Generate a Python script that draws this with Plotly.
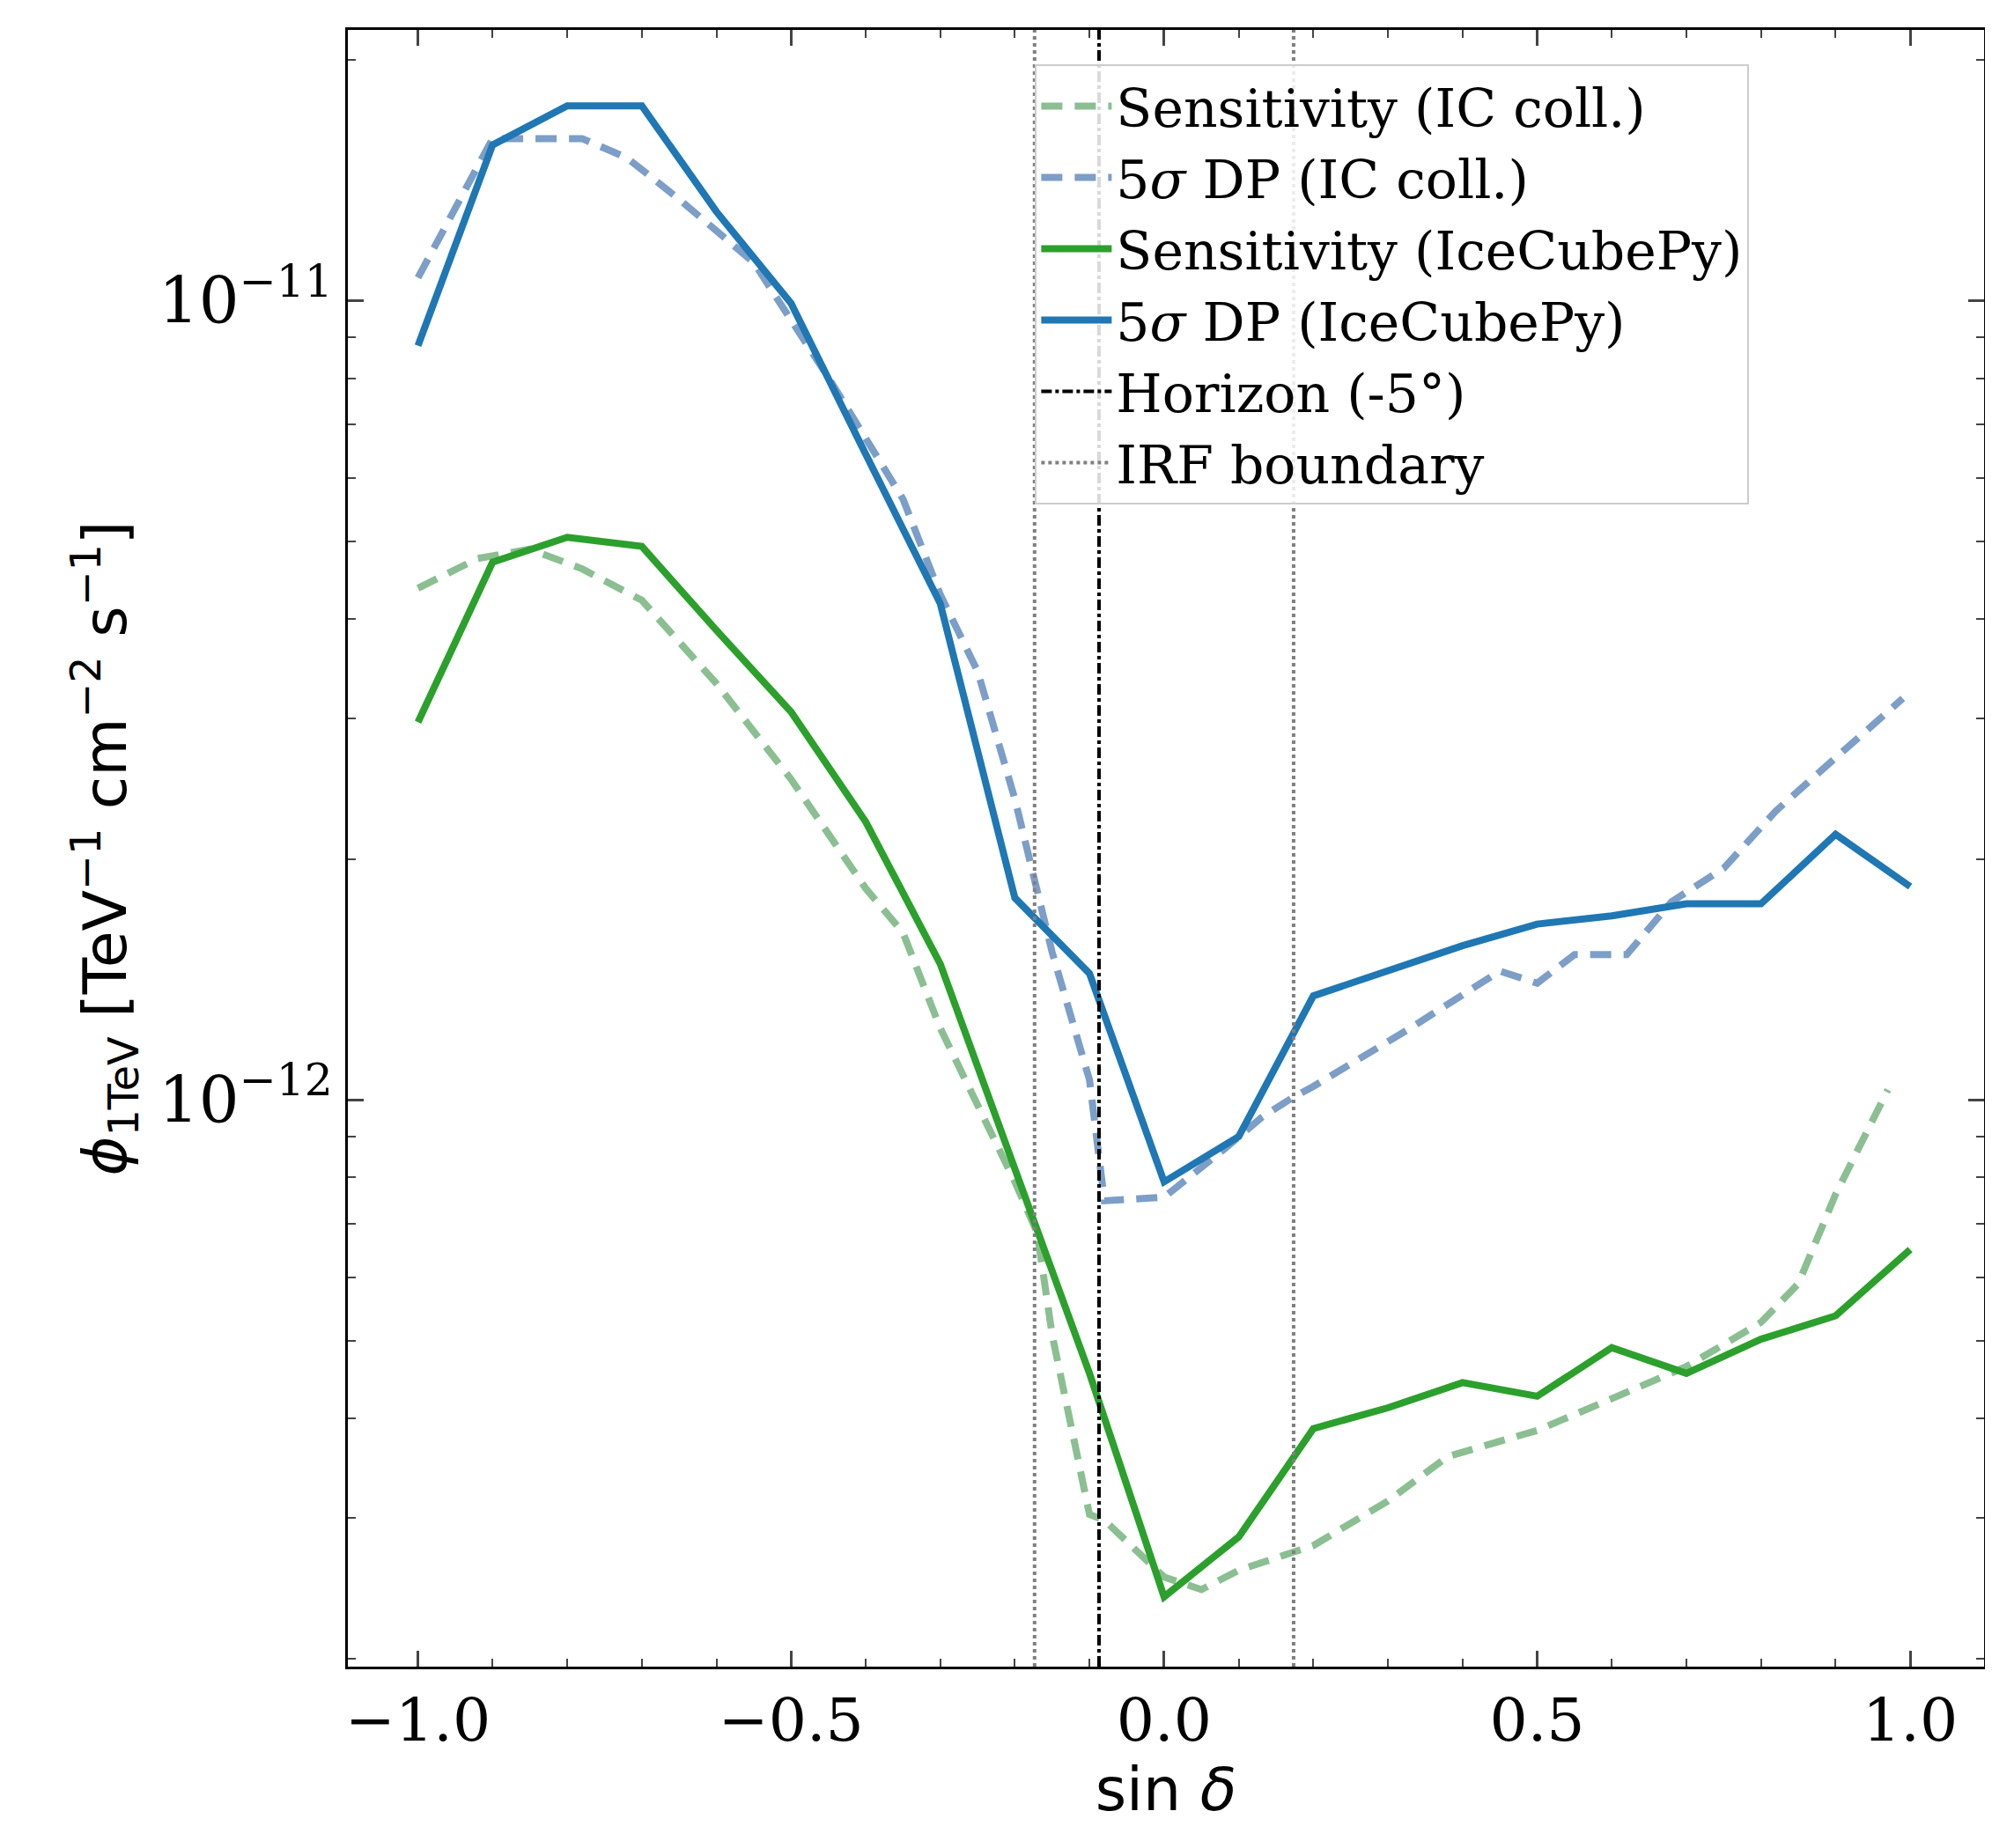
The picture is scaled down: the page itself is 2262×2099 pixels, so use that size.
import plotly.graph_objects as go

x_icp = [-1.0,-0.9,-0.8,-0.7,-0.6,-0.5,-0.4,-0.3,-0.2,-0.1,0.0,0.1,0.2,0.3,0.4,0.5,0.6,0.7,0.8,0.9,1.0]
dp_icp = [8.79e-12,1.567e-11,1.754e-11,1.754e-11,1.293e-11,9.93e-12,6.43e-12,4.18e-12,1.79e-12,1.44e-12,7.9e-13,9.0e-13,1.35e-12,1.45e-12,1.56e-12,1.66e-12,1.70e-12,1.76e-12,1.76e-12,2.15e-12,1.85e-12]
sens_icp = [2.97e-12,4.71e-12,5.06e-12,4.93e-12,3.87e-12,3.06e-12,2.23e-12,1.48e-12,8.2e-13,4.55e-13,2.39e-13,2.84e-13,3.88e-13,4.12e-13,4.43e-13,4.26e-13,4.90e-13,4.55e-13,5.02e-13,5.37e-13,6.5e-13]

x_dp_coll = [-1.0,-0.9,-0.78,-0.72,-0.65,-0.55,-0.5,-0.45,-0.35,-0.3,-0.25,-0.2,-0.15,-0.1,-0.08,0.0,0.08,0.13,0.17,0.2,0.33,0.38,0.45,0.5,0.55,0.62,0.68,0.75,0.82,0.88,0.99]
dp_coll = [1.069e-11,1.596e-11,1.596e-11,1.51e-11,1.34e-11,1.117e-11,9.46e-12,8.02e-12,5.65e-12,4.29e-12,3.44e-12,2.38e-12,1.53e-12,1.06e-12,7.48e-13,7.56e-13,8.67e-13,9.5e-13,1.004e-12,1.04e-12,1.23e-12,1.32e-12,1.45e-12,1.40e-12,1.52e-12,1.52e-12,1.77e-12,1.95e-12,2.30e-12,2.58e-12,3.18e-12]

x_sens_coll = [-1.0,-0.92,-0.85,-0.78,-0.7,-0.6,-0.5,-0.4,-0.35,-0.3,-0.2,-0.17,-0.15,-0.1,-0.08,0.0,0.05,0.1,0.2,0.3,0.38,0.5,0.6,0.7,0.8,0.85,0.9,0.97]
sens_coll = [4.37e-12,4.76e-12,4.89e-12,4.62e-12,4.22e-12,3.32e-12,2.52e-12,1.84e-12,1.62e-12,1.23e-12,7.9e-13,6.82e-13,5.08e-13,3.03e-13,2.98e-13,2.53e-13,2.44e-13,2.58e-13,2.77e-13,3.15e-13,3.58e-13,3.86e-13,4.23e-13,4.64e-13,5.27e-13,5.89e-13,7.62e-13,1.03e-12]

horizon = -0.0872
irf = [-0.1736, 0.1736]
ylo, yhi = 10**-12.709, 10**-10.661

fig = go.Figure()
fig.add_trace(go.Scatter(x=x_sens_coll, y=sens_coll, mode="lines", name="Sensitivity (IC coll.)",
                         line=dict(color="rgba(100,170,110,0.75)", width=8, dash="24px,14px")))
fig.add_trace(go.Scatter(x=x_dp_coll, y=dp_coll, mode="lines", name="5<i>σ</i> DP (IC coll.)",
                         line=dict(color="rgba(80,125,180,0.75)", width=8, dash="24px,14px")))
fig.add_trace(go.Scatter(x=x_icp, y=sens_icp, mode="lines", name="Sensitivity (IceCubePy)",
                         line=dict(color="#2ca02c", width=8)))
fig.add_trace(go.Scatter(x=x_icp, y=dp_icp, mode="lines", name="5<i>σ</i> DP (IceCubePy)",
                         line=dict(color="#1f77b4", width=8)))
fig.add_trace(go.Scatter(x=[horizon, horizon], y=[ylo, yhi], mode="lines", name="Horizon (-5°)",
                         line=dict(color="black", width=4, dash="dashdot")))
fig.add_trace(go.Scatter(x=[irf[0], irf[0]], y=[ylo, yhi], mode="lines", name="IRF boundary",
                         line=dict(color="gray", width=4, dash="dot")))
fig.add_trace(go.Scatter(x=[irf[1], irf[1]], y=[ylo, yhi], mode="lines", showlegend=False,
                         line=dict(color="gray", width=4, dash="dot")))

fig.update_layout(
    width=2262, height=2099, plot_bgcolor="white", paper_bgcolor="white",
    margin=dict(l=387, r=17, t=26, b=214),
    font=dict(family="DejaVu Serif", size=58, color="black"),
    legend=dict(x=0.42, y=0.979, xanchor="left", yanchor="top", bgcolor="rgba(255,255,255,0.85)",
                bordercolor="#cccccc", borderwidth=2, font=dict(size=60, family="DejaVu Serif"),
                itemwidth=80, tracegroupgap=8),
    xaxis=dict(range=[-1.094, 1.099], tickvals=[-1.0,-0.5,0.0,0.5,1.0], ticktext=["−1.0","−0.5","0.0","0.5","1.0"],
               ticks="inside", ticklen=18, tickwidth=2.5, mirror="ticks", showline=True, linecolor="black", linewidth=2.5,
               showgrid=False, zeroline=False, tickfont=dict(size=68),
               minor=dict(ticks="inside", ticklen=9, tickwidth=2, dtick=0.1),
               title=dict(text="sin <i>δ</i>", font=dict(family="DejaVu Sans", size=68), standoff=8)),
    yaxis=dict(type="log", range=[-12.709, -10.661], tickvals=[1e-12, 1e-11],
               ticktext=["10<sup>−12</sup>", "10<sup>−11</sup>"],
               ticks="inside", ticklen=18, tickwidth=2.5, mirror="ticks", showline=True, linecolor="black", linewidth=2.5,
               showgrid=False, zeroline=False, tickfont=dict(size=72),
               minor=dict(ticks="inside", ticklen=9, tickwidth=2, tickvals=[k*10**e for e in (-13,-12,-11) for k in range(2,10)]),
               title=dict(text="<i>ϕ</i><sub>1TeV</sub> [TeV<sup>−1</sup> cm<sup>−2</sup> s<sup>−1</sup>]",
                          font=dict(family="DejaVu Sans", size=68), standoff=15)),
)
fig.write_html("out.html")
